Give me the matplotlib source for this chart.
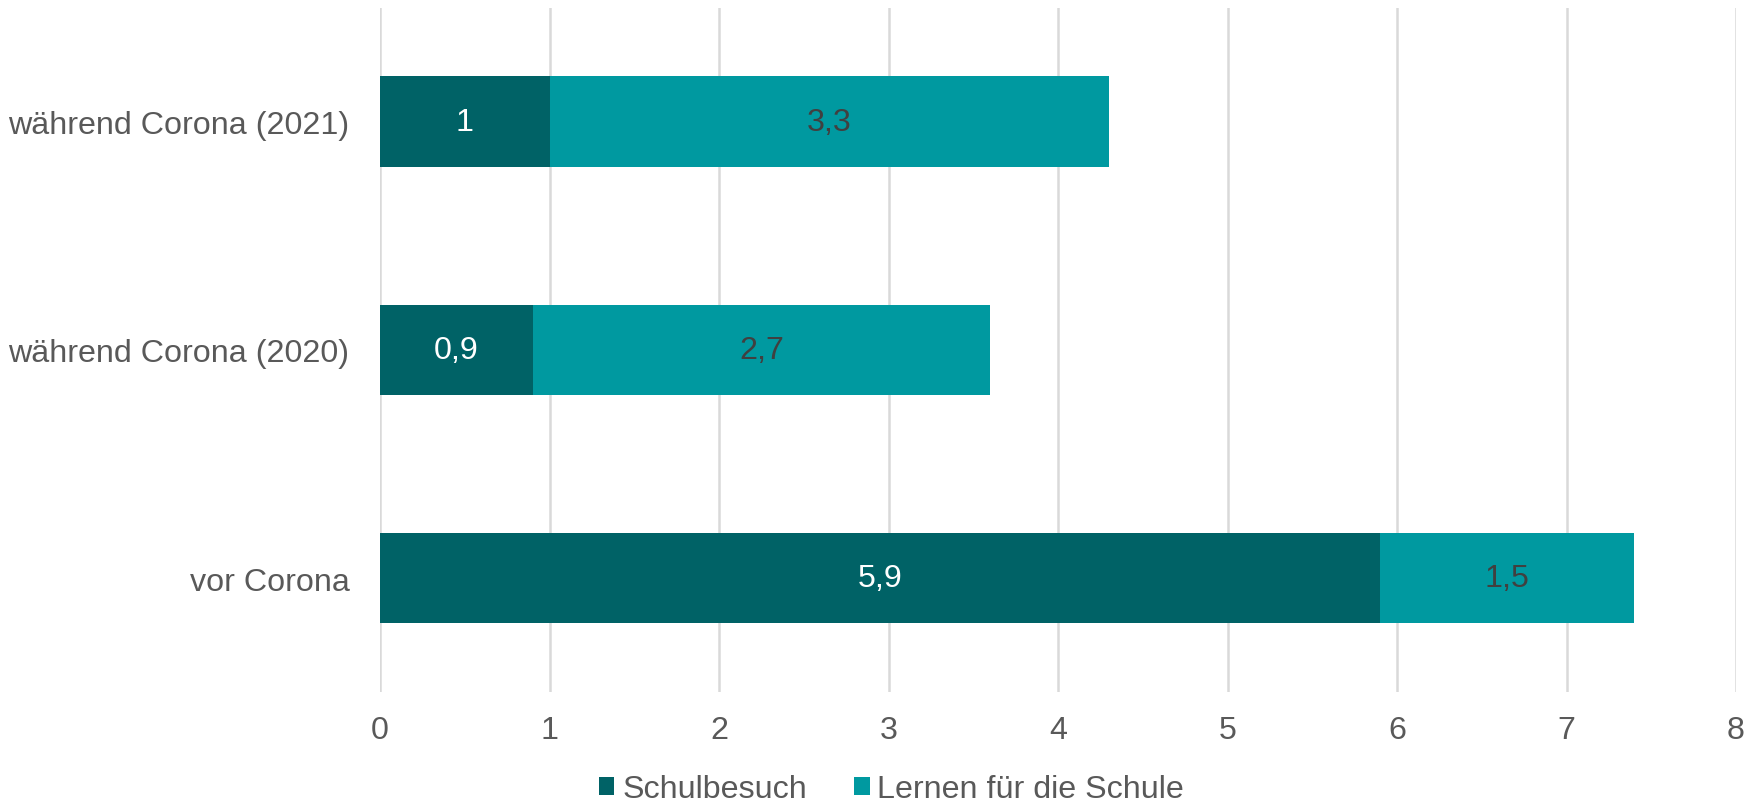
import matplotlib.pyplot as plt
from matplotlib.patches import Patch

plt.rcParams['font.family'] = ['Liberation Sans', 'DejaVu Sans']

categories = ['vor Corona', 'während Corona (2020)', 'während Corona (2021)']
schulbesuch = [5.9, 0.9, 1.0]
lernen = [1.5, 2.7, 3.3]
series_names = ['Schulbesuch', 'Lernen für die Schule']
xticks = [0, 1, 2, 3, 4, 5, 6, 7, 8]

dark = '#006266'
light = '#0099A0'
grey = '#595959'
fs = 23.2


def fmt(v):
    s = f'{v:g}'
    return s.replace('.', ',')


fig = plt.figure(figsize=(17.58, 8.04), dpi=100)
ax = fig.add_axes([0.2162, 0.138, 0.7713, 0.851])

y = list(range(len(categories)))
b1 = ax.barh(y, schulbesuch, height=0.398, color=dark, zorder=3)
b2 = ax.barh(y, lernen, left=schulbesuch, height=0.398, color=light, zorder=3)

for rect, v in zip(b1, schulbesuch):
    ax.text(rect.get_x() + rect.get_width() / 2, rect.get_y() + rect.get_height() / 2,
            fmt(v), ha='center', va='center', color='white', fontsize=fs, zorder=4)
for rect, v in zip(b2, lernen):
    ax.text(rect.get_x() + rect.get_width() / 2, rect.get_y() + rect.get_height() / 2,
            fmt(v), ha='center', va='center', color='#404040', fontsize=fs, zorder=4)

ax.set_xlim(0, 8)
ax.set_ylim(-0.5, 2.5)
ax.set_xticks(xticks)
ax.set_xticklabels([str(t) for t in xticks])
ax.set_yticks(y)
ax.set_yticklabels(categories)
ax.tick_params(axis='x', length=0, pad=16.5, labelsize=fs, labelcolor=grey)
ax.tick_params(axis='y', length=0, pad=22, labelsize=fs, labelcolor=grey)
ax.grid(axis='x', color='#D9D9D9', linewidth=1.8, zorder=0)
for s in ax.spines.values():
    s.set_visible(False)

handles = [Patch(facecolor=dark), Patch(facecolor=light)]
fig.legend(handles, series_names, loc='center', bbox_to_anchor=(0.507, 0.017),
           ncol=2, frameon=False, fontsize=fs, labelcolor=grey,
           handlelength=0.49, handleheight=0.49, handletextpad=0.24,
           columnspacing=1.46, borderpad=0)

fig.savefig('out.png', dpi=100)
